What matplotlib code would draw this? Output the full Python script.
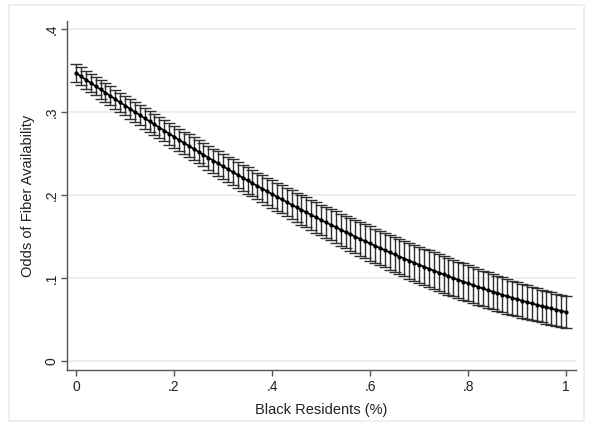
import matplotlib
matplotlib.use("Agg")
import matplotlib.pyplot as plt
from matplotlib.patches import Rectangle

plt.rcParams['font.family'] = ['Liberation Sans', 'DejaVu Sans']

black_share = [i / 100 for i in range(101)]

odds = [
    0.3470, 0.3430, 0.3390, 0.3351, 0.3311, 0.3272, 0.3233, 0.3194, 0.3155, 0.3116,
    0.3078, 0.3039, 0.3001, 0.2963, 0.2925, 0.2888, 0.2850, 0.2813, 0.2776, 0.2739,
    0.2702, 0.2665, 0.2629, 0.2593, 0.2557, 0.2521, 0.2486, 0.2450, 0.2415, 0.2380,
    0.2346, 0.2311, 0.2277, 0.2243, 0.2209, 0.2175, 0.2142, 0.2109, 0.2076, 0.2043,
    0.2011, 0.1979, 0.1947, 0.1915, 0.1883, 0.1852, 0.1821, 0.1791, 0.1760, 0.1730,
    0.1700, 0.1670, 0.1641, 0.1612, 0.1583, 0.1554, 0.1526, 0.1498, 0.1470, 0.1443,
    0.1416, 0.1389, 0.1362, 0.1336, 0.1310, 0.1284, 0.1259, 0.1234, 0.1209, 0.1184,
    0.1160, 0.1136, 0.1113, 0.1089, 0.1066, 0.1044, 0.1021, 0.0999, 0.0978, 0.0957,
    0.0936, 0.0915, 0.0895, 0.0875, 0.0855, 0.0836, 0.0817, 0.0798, 0.0780, 0.0762,
    0.0745, 0.0728, 0.0711, 0.0694, 0.0678, 0.0663, 0.0647, 0.0633, 0.0618, 0.0604,
    0.0590,
]

ci_half = [
    0.0105, 0.0106, 0.0108, 0.0109, 0.0110, 0.0112, 0.0113, 0.0114, 0.0115, 0.0117,
    0.0118, 0.0119, 0.0121, 0.0122, 0.0124, 0.0125, 0.0126, 0.0128, 0.0129, 0.0131,
    0.0132, 0.0134, 0.0135, 0.0137, 0.0138, 0.0140, 0.0142, 0.0143, 0.0145, 0.0146,
    0.0148, 0.0150, 0.0151, 0.0153, 0.0155, 0.0157, 0.0158, 0.0160, 0.0162, 0.0163,
    0.0165, 0.0167, 0.0169, 0.0171, 0.0173, 0.0175, 0.0177, 0.0179, 0.0181, 0.0183,
    0.0185, 0.0187, 0.0189, 0.0191, 0.0193, 0.0195, 0.0197, 0.0199, 0.0201, 0.0203,
    0.0205, 0.0206, 0.0208, 0.0209, 0.0210, 0.0212, 0.0213, 0.0214, 0.0215, 0.0217,
    0.0218, 0.0219, 0.0219, 0.0220, 0.0220, 0.0220, 0.0220, 0.0220, 0.0219, 0.0219,
    0.0218, 0.0217, 0.0216, 0.0214, 0.0213, 0.0212, 0.0210, 0.0209, 0.0208, 0.0206,
    0.0205, 0.0204, 0.0202, 0.0201, 0.0199, 0.0198, 0.0196, 0.0195, 0.0193, 0.0192,
    0.0190,
]

x_ticks = [0, 0.2, 0.4, 0.6, 0.8, 1.0]
x_tick_labels = ["0", ".2", ".4", ".6", ".8", "1"]
y_ticks = [0, 0.1, 0.2, 0.3, 0.4]
y_tick_labels = ["0", ".1", ".2", ".3", ".4"]

W, H = 589, 425
fig = plt.figure(figsize=(W / 100, H / 100), dpi=100)
fig.patch.set_facecolor('white')
fig.add_artist(Rectangle((9 / W, 4 / H), (W - 14) / W, (H - 9) / H,
                         transform=fig.transFigure, fill=False,
                         edgecolor='#e8eff1', linewidth=1.2))

ax = fig.add_axes([67 / W, (H - 370) / H, (576 - 67) / W, (370 - 21) / H])
ax.set_xlim(-0.0184, 1.0204)
ax.set_ylim(-0.0108, 0.4096)

for yt in y_ticks:
    ax.axhline(yt, color='#e8eff1', linewidth=1.3, zorder=0)

ax.errorbar(black_share, odds, yerr=ci_half, fmt='none', ecolor='#303030',
            elinewidth=1.0, capsize=4.5, capthick=1.0, zorder=2)
ax.plot(black_share, odds, color='black', linewidth=1.3, marker='o',
        markersize=2.0, zorder=3)

for side in ['top', 'right']:
    ax.spines[side].set_visible(False)
for side in ['left', 'bottom']:
    ax.spines[side].set_color('#555555')
    ax.spines[side].set_linewidth(1.0)

ax.set_xticks(x_ticks)
ax.set_xticklabels(x_tick_labels)
ax.set_yticks(y_ticks)
ax.set_yticklabels(y_tick_labels, rotation=90, va='center')
ax.tick_params(axis='both', direction='out', length=4, width=1.0,
               color='#555555', labelsize=10, labelcolor='#222222')
ax.tick_params(axis='x', pad=3)
ax.tick_params(axis='y', pad=2)

ax.set_xlabel("Black Residents (%)", fontsize=10.5, color='#222222', labelpad=7)
ax.set_ylabel("Odds of Fiber Availability", fontsize=10.5, color='#222222', labelpad=7)

fig.savefig("out.png", dpi=100)
